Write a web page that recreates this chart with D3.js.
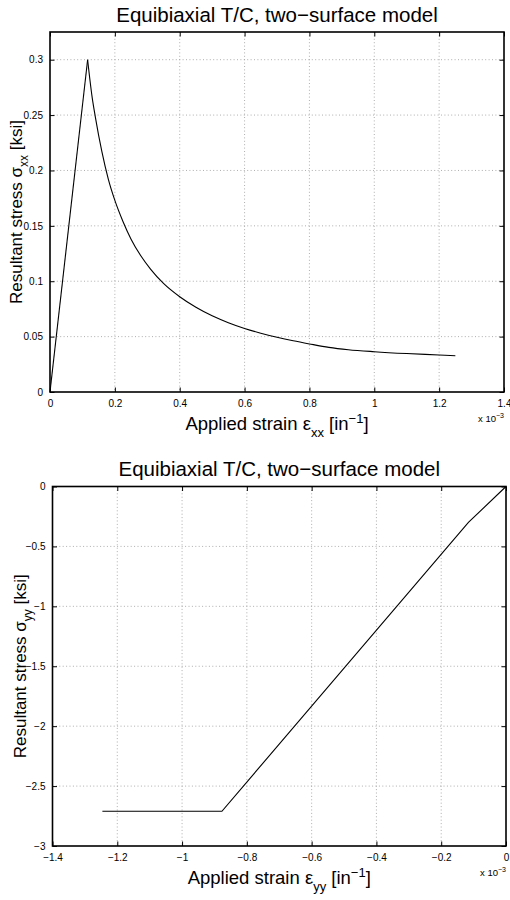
<!DOCTYPE html>
<html lang="en">
<head>
<meta charset="UTF-8">
<title>Equibiaxial T/C</title>
<script src="https://cdn.jsdelivr.net/npm/d3@7"></script>
<style>
  body { margin: 0; background: #fff; }
  text { font-family: "Liberation Sans", Arial, sans-serif; fill: #000; }
</style>
</head>
<body>
<div id="chart"></div>
<script>
// data (strain in 1e-3 in^-1, stress in ksi)
const strainXX = [0, 0.116, 0.13, 0.14, 0.16, 0.18, 0.2, 0.225, 0.25, 0.28, 0.31, 0.35, 0.4, 0.45, 0.5, 0.55, 0.6, 0.65, 0.7, 0.75, 0.8, 0.86, 0.92, 1.0, 1.1, 1.2, 1.25]
const stressXX = [0, 0.300, 0.266, 0.248, 0.217, 0.192, 0.173, 0.154, 0.138, 0.123, 0.111, 0.098, 0.086, 0.0765, 0.0688, 0.0626, 0.0574, 0.0531, 0.0494, 0.0462, 0.0434, 0.0403, 0.0382, 0.0364, 0.0347, 0.0334, 0.0327]
const strainYY = [0, -0.116, -0.877, -1.246]
const stressYY = [0, -0.300, -2.71, -2.71]

const xTicksTop = [0, 0.2, 0.4, 0.6, 0.8, 1, 1.2, 1.4]
const yTicksTop = [0, 0.05, 0.1, 0.15, 0.2, 0.25, 0.3]
const xTicksBot = [-1.4, -1.2, -1, -0.8, -0.6, -0.4, -0.2, 0]
const yTicksBot = [-3, -2.5, -2, -1.5, -1, -0.5, 0]

const titleText = 'Equibiaxial T/C, two\u2212surface model'

const svg = d3.select('#chart').append('svg').attr('width', 510).attr('height', 900)

function fmt(v) {
    return d3.format('~g')(v).replace('-', '\u2212')
}

function panel(o) {
    let x = d3.scaleLinear().domain(o.xDomain).range([o.left, o.right])
    let y = d3.scaleLinear().domain(o.yDomain).range([o.bottom, o.top])
    let g = svg.append('g')
    let tl = 4.5

    // grid
    g.append('g').selectAll('line').data(o.xTicks.filter(d => d != o.xDomain[0] && d != o.xDomain[1]))
        .join('line')
        .attr('x1', d => x(d)).attr('x2', d => x(d))
        .attr('y1', o.top).attr('y2', o.bottom)
        .attr('stroke', '#999').attr('stroke-width', 0.8).attr('stroke-dasharray', '1,2.4')
    g.append('g').selectAll('line').data(o.yTicks.filter(d => d != o.yDomain[0] && d != o.yDomain[1]))
        .join('line')
        .attr('y1', d => y(d)).attr('y2', d => y(d))
        .attr('x1', o.left).attr('x2', o.right)
        .attr('stroke', '#999').attr('stroke-width', 0.8).attr('stroke-dasharray', '1,2.4')

    // curve: straight up to the peak, smooth afterwards
    let pts = d3.zip(o.xs, o.ys)
    let k = o.smooth ? d3.maxIndex(o.ys) : pts.length - 1
    let lin = d3.line().x(d => x(d[0])).y(d => y(d[1]))
    let mono = d3.line().x(d => x(d[0])).y(d => y(d[1])).curve(d3.curveMonotoneX)
    g.append('path').datum(pts.slice(0, k + 1))
        .attr('d', lin).attr('fill', 'none').attr('stroke', '#000').attr('stroke-width', 1.1)
    if (k < pts.length - 1) {
        g.append('path').datum(pts.slice(k))
            .attr('d', mono).attr('fill', 'none').attr('stroke', '#000').attr('stroke-width', 1.1)
    }

    // axes with inward ticks, mirrored on opposite sides
    let ax = (gen, tr) => g.append('g').attr('transform', tr).call(gen)
    let bottomAx = ax(d3.axisBottom(x).tickValues(o.xTicks).tickSize(-tl).tickPadding(8).tickFormat(fmt), `translate(0,${o.bottom})`)
    let topAx = ax(d3.axisTop(x).tickValues(o.xTicks).tickSize(-tl).tickFormat(''), `translate(0,${o.top})`)
    let leftAx = ax(d3.axisLeft(y).tickValues(o.yTicks).tickSize(-tl).tickPadding(7).tickFormat(fmt), `translate(${o.left},0)`)
    let rightAx = ax(d3.axisRight(y).tickValues(o.yTicks).tickSize(-tl).tickFormat(''), `translate(${o.right},0)`)
    ;[bottomAx, topAx, leftAx, rightAx].forEach(a => {
        a.select('.domain').remove()
        a.selectAll('.tick line').attr('stroke', '#000').attr('stroke-width', 1)
        a.selectAll('.tick text').attr('font-size', 10).attr('font-family', '"Liberation Sans", Arial, sans-serif').attr('fill', '#111')
    })
    bottomAx.selectAll('.tick text').attr('dy', '0.7em')

    g.append('rect').attr('x', o.left).attr('y', o.top)
        .attr('width', o.right - o.left).attr('height', o.bottom - o.top)
        .attr('fill', 'none').attr('stroke', '#000').attr('stroke-width', 1.6)

    // title
    g.append('text').attr('x', (o.left + o.right) / 2).attr('y', o.top - 10.5)
        .attr('text-anchor', 'middle').attr('font-size', 20.5).text(titleText)

    // x 10^-3
    let m = g.append('text').attr('x', o.right - 26).attr('y', o.bottom + 30).attr('font-size', 9.5)
    m.append('tspan').text('x 10')
    m.append('tspan').attr('dy', -4.5).attr('font-size', 7).text('\u22123')

    // x label
    let xl = g.append('text').attr('x', (o.left + o.right) / 2).attr('y', o.bottom + 38)
        .attr('text-anchor', 'middle').attr('font-size', 18.5)
    xl.append('tspan').text('Applied strain \u03b5')
    xl.append('tspan').attr('dy', 6.5).attr('font-size', 13).text(o.sub)
    xl.append('tspan').attr('dy', -6.5).text(' [in')
    xl.append('tspan').attr('dy', -7.5).attr('font-size', 13).text('\u22121')
    xl.append('tspan').attr('dy', 7.5).text(']')

    // y label
    let yl = g.append('text')
        .attr('transform', `translate(${o.ylabX},${(o.top + o.bottom) / 2}) rotate(-90)`)
        .attr('text-anchor', 'middle').attr('font-size', 17)
    yl.append('tspan').text('Resultant stress \u03c3')
    yl.append('tspan').attr('dy', 6).attr('font-size', 12).text(o.sub)
    yl.append('tspan').attr('dy', -6).text(' [ksi]')
}

panel({
    left: 50, right: 504, top: 32, bottom: 392,
    xDomain: [0, 1.4], yDomain: [0, 0.325],
    xTicks: xTicksTop, yTicks: yTicksTop,
    xs: strainXX, ys: stressXX, sub: 'xx', ylabX: 22, smooth: true
})
panel({
    left: 52.5, right: 506, top: 486.5, bottom: 846,
    xDomain: [-1.4, 0], yDomain: [-3, 0],
    xTicks: xTicksBot, yTicks: yTicksBot,
    xs: strainYY, ys: stressYY, sub: 'yy', ylabX: 26, smooth: false
})
</script>
</body>
</html>
